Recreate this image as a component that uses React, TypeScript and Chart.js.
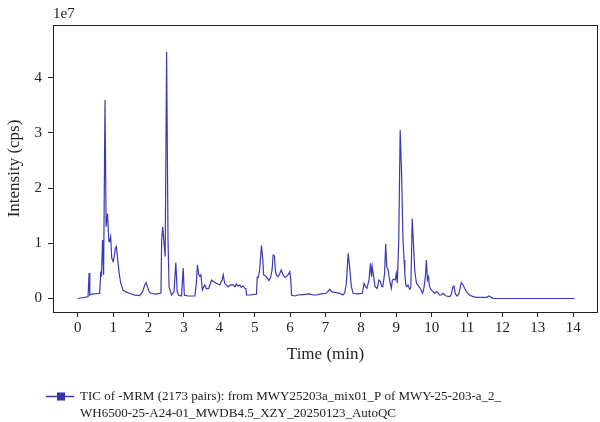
import { useEffect, useRef } from 'react';
import { Chart, registerables } from 'chart.js';

Chart.register(...registerables);

// Retention time (min) of each sampled point of the TIC trace
const timeMin = [
  0.0, 0.29, 0.32, 0.34, 0.39, 0.6, 0.62, 0.65, 0.67, 0.7, 0.73, 0.77, 0.8, 0.84, 0.88, 0.9,
  0.93, 0.96, 1.0, 1.03, 1.06, 1.09, 1.13, 1.17, 1.21, 1.28, 1.36, 1.47, 1.61, 1.75, 1.83,
  1.89, 1.93, 1.97, 2.02, 2.08, 2.22, 2.35, 2.37, 2.4, 2.43, 2.47, 2.51, 2.55, 2.58, 2.65,
  2.72, 2.77, 2.81, 2.85, 2.93, 2.98, 3.01, 3.12, 3.31, 3.35, 3.38, 3.42, 3.45, 3.48, 3.52,
  3.56, 3.59, 3.63, 3.7, 3.78, 3.84, 3.92, 4.01, 4.08, 4.11, 4.15, 4.25, 4.31, 4.39, 4.44,
  4.48, 4.53, 4.58, 4.62, 4.67, 4.72, 4.75, 4.77, 4.86, 4.95, 5.05, 5.07, 5.1, 5.14, 5.19,
  5.23, 5.25, 5.31, 5.36, 5.4, 5.45, 5.49, 5.52, 5.56, 5.58, 5.61, 5.66, 5.71, 5.75, 5.8,
  5.85, 5.89, 5.94, 5.99, 6.02, 6.04, 6.13, 6.22, 6.36, 6.55, 6.65, 6.74, 6.88, 7.02, 7.12,
  7.17, 7.26, 7.4, 7.49, 7.54, 7.59, 7.64, 7.68, 7.73, 7.78, 7.92, 8.04, 8.09, 8.13, 8.17,
  8.23, 8.27, 8.3, 8.32, 8.36, 8.4, 8.46, 8.51, 8.55, 8.59, 8.62, 8.67, 8.7, 8.73, 8.77,
  8.81, 8.86, 8.89, 8.92, 8.97, 9.0, 9.03, 9.07, 9.11, 9.15, 9.19, 9.22, 9.24, 9.27, 9.3,
  9.33, 9.38, 9.41, 9.43, 9.45, 9.48, 9.52, 9.57, 9.61, 9.64, 9.68, 9.74, 9.77, 9.8, 9.83,
  9.85, 9.88, 9.91, 9.94, 9.99, 10.04, 10.08, 10.13, 10.18, 10.22, 10.27, 10.32, 10.37,
  10.41, 10.51, 10.55, 10.6, 10.63, 10.67, 10.72, 10.77, 10.81, 10.84, 10.89, 10.93, 10.98,
  11.07, 11.17, 11.26, 11.45, 11.56, 11.62, 11.66, 11.73, 11.92, 12.86, 14.04,
];

// Total ion current in units of 1e7 cps
const intensityE7 = [
  0.0, 0.03, 0.46, 0.06, 0.08, 0.09, 0.12, 0.49, 0.4, 1.06, 0.43, 3.6, 1.3, 1.54, 1.03, 1.03,
  1.12, 0.73, 0.67, 0.76, 0.91, 0.94, 0.7, 0.46, 0.29, 0.15, 0.12, 0.09, 0.06, 0.05, 0.12,
  0.24, 0.29, 0.21, 0.12, 0.09, 0.08, 0.1, 1.06, 1.3, 1.06, 0.76, 4.47, 1.06, 0.21, 0.06,
  0.12, 0.65, 0.12, 0.06, 0.045, 0.55, 0.06, 0.045, 0.045, 0.27, 0.61, 0.43, 0.4, 0.43, 0.15,
  0.21, 0.245, 0.18, 0.18, 0.335, 0.305, 0.275, 0.245, 0.335, 0.43, 0.275, 0.21, 0.245, 0.245, 0.214,
  0.26, 0.226, 0.245, 0.2, 0.226, 0.184, 0.18, 0.063, 0.063, 0.07, 0.08, 0.384, 0.384, 0.516, 0.957,
  0.7, 0.426, 0.408, 0.365, 0.323, 0.384, 0.516, 0.788, 0.77, 0.516, 0.426, 0.396, 0.456, 0.516, 0.426,
  0.384, 0.396, 0.426, 0.486, 0.335, 0.063, 0.045, 0.063, 0.07, 0.082, 0.063, 0.063, 0.082, 0.094, 0.166,
  0.124, 0.11, 0.094, 0.063, 0.094, 0.275, 0.818, 0.577, 0.214, 0.094, 0.082, 0.094, 0.275, 0.214, 0.184,
  0.335, 0.637, 0.396, 0.577, 0.396, 0.214, 0.184, 0.335, 0.305, 0.214, 0.214, 0.456, 0.987, 0.577, 0.516,
  0.335, 0.184, 0.335, 0.35, 0.335, 0.456, 0.275, 1.06, 3.05, 2.27, 1.06, 0.697, 0.456, 0.245, 0.214,
  0.245, 0.166, 0.184, 0.758, 1.45, 1.06, 0.516, 0.275, 0.245, 0.214, 0.184, 0.094, 0.154, 0.275, 0.456,
  0.697, 0.335, 0.396, 0.214, 0.154, 0.124, 0.094, 0.124, 0.106, 0.063, 0.063, 0.094, 0.063,
  0.045, 0.033, 0.063, 0.214, 0.226, 0.082, 0.045, 0.082, 0.214, 0.287, 0.245, 0.184, 0.124,
  0.063, 0.033, 0.02, 0.02, 0.02, 0.045, 0.033, 0.003, 0.0, 0.0, 0.0,
];

const xTickValues = [0, 1, 2, 3, 4, 5, 6, 7, 8, 9, 10, 11, 12, 13, 14];
const yTickValues = [0, 1, 2, 3, 4];
const xTitle = 'Time (min)';
const yTitle = 'Intensity (cps)';
const yOffsetLabel = '1e7';
const legendLines = [
  'TIC of -MRM (2173 pairs): from MWY25203a_mix01_P of MWY-25-203-a_2_',
  'WH6500-25-A24-01_MWDB4.5_XZY_20250123_AutoQC',
];

const SERIF = '"Liberation Serif", "Times New Roman", serif';
const TRACE = '#3a3ab4';
const INK = '#222222';

export default function App() {
  const canvasRef = useRef<HTMLCanvasElement | null>(null);

  useEffect(() => {
    const canvas = canvasRef.current;
    if (!canvas) return;

    // Frame around the plot, the 1e7 multiplier and the two-line legend
    const decorations = {
      id: 'ticDecorations',
      afterDraw(chart: Chart) {
        const { ctx, chartArea } = chart;
        ctx.save();
        ctx.strokeStyle = INK;
        ctx.lineWidth = 1;
        ctx.strokeRect(
          Math.round(chartArea.left) + 0.5,
          Math.round(chartArea.top) + 0.5,
          Math.round(chartArea.right - chartArea.left) - 1,
          Math.round(chartArea.bottom - chartArea.top)
        );

        ctx.fillStyle = INK;
        ctx.font = `15px ${SERIF}`;
        ctx.textAlign = 'left';
        ctx.textBaseline = 'middle';
        ctx.fillText(yOffsetLabel, chartArea.left, 14);

        const ly = 396;
        ctx.strokeStyle = TRACE;
        ctx.lineWidth = 1.5;
        ctx.beginPath();
        ctx.moveTo(46, ly + 0.5);
        ctx.lineTo(74, ly + 0.5);
        ctx.stroke();
        ctx.fillStyle = '#3333aa';
        ctx.fillRect(57, ly - 3.5, 8, 8);

        ctx.fillStyle = INK;
        ctx.font = `13px ${SERIF}`;
        legendLines.forEach((line, i) => {
          ctx.fillText(line, 80, ly + 1 + i * 17);
        });
        ctx.restore();
      },
    };

    const chart = new Chart(canvas, {
      type: 'line',
      data: {
        datasets: [
          {
            label: legendLines.join(' '),
            data: timeMin.map((t, i) => ({ x: t, y: intensityE7[i] })),
            borderColor: TRACE,
            borderWidth: 1.2,
            pointRadius: 0,
            tension: 0,
            fill: false,
          },
        ],
      },
      options: {
        responsive: false,
        animation: false,
        devicePixelRatio: 1,
        layout: { padding: { top: 25, right: 2, left: 0, bottom: 0 } },
        plugins: {
          legend: { display: false },
          tooltip: { enabled: false },
        },
        scales: {
          x: {
            type: 'linear',
            min: -0.7,
            max: 14.7,
            afterFit: (scale: any) => {
              scale.height = 110;
            },
            afterBuildTicks: (scale: any) => {
              scale.ticks = xTickValues.map((v) => ({ value: v }));
            },
            ticks: {
              stepSize: 1,
              autoSkip: false,
              maxRotation: 0,
              padding: 2,
              color: INK,
              font: { family: SERIF, size: 15 },
              callback: (v: any) => String(v),
            },
            grid: {
              display: true,
              drawOnChartArea: false,
              drawTicks: true,
              tickLength: 5,
              tickColor: INK,
              tickWidth: 1,
            },
            border: { display: false },
            title: {
              display: true,
              text: xTitle,
              color: INK,
              font: { family: SERIF, size: 17 },
              padding: { top: 0, bottom: 57 },
            },
          },
          y: {
            type: 'linear',
            min: -0.245,
            max: 4.955,
            afterFit: (scale: any) => {
              scale.width = 53;
            },
            afterBuildTicks: (scale: any) => {
              scale.ticks = yTickValues.map((v) => ({ value: v }));
            },
            ticks: {
              stepSize: 1,
              padding: 6,
              color: INK,
              font: { family: SERIF, size: 15 },
              callback: (v: any) => String(v),
            },
            grid: {
              display: true,
              drawOnChartArea: false,
              drawTicks: true,
              tickLength: 5,
              tickColor: INK,
              tickWidth: 1,
            },
            border: { display: false },
            title: {
              display: true,
              text: yTitle,
              color: INK,
              font: { family: SERIF, size: 17 },
              padding: { top: 4, bottom: 0 },
            },
          },
        },
      },
      plugins: [decorations],
    });

    return () => {
      chart.destroy();
    };
  }, []);

  return (
    <div style={{ position: 'absolute', left: 0, top: 0, width: 600, height: 422, background: '#fff' }}>
      <canvas ref={canvasRef} width={600} height={422} />
    </div>
  );
}
